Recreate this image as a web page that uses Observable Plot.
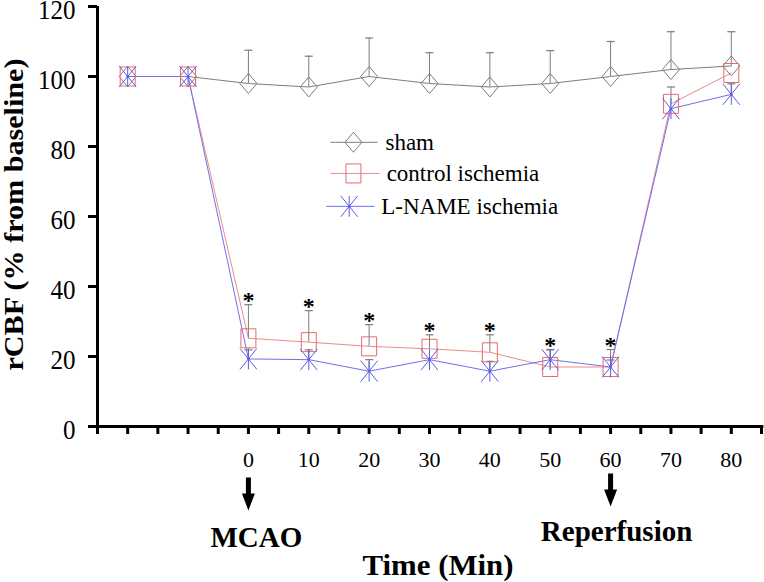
<!DOCTYPE html>
<html>
<head>
<meta charset="utf-8">
<script src="https://cdn.jsdelivr.net/npm/d3@7"></script>
<script src="https://cdn.jsdelivr.net/npm/@observablehq/plot@0.6"></script>
<style>
  html, body { margin: 0; padding: 0; background: #fff; }
  #chart { width: 764px; height: 582px; }
  #chart svg { display: block; }
</style>
</head>
<body>
<div id="chart"></div>
<script>
// ---- data ----
const times = [-20, -10, 0, 10, 20, 30, 40, 50, 60, 70, 80];
const shamMean     = [100, 100, 98, 97, 100, 98, 97, 98, 100, 102, 103];
const shamUpper    = [null, null, 107.5, 105.8, 111, 106.8, 106.8, 107.4, 110, 112.8, 112.8];
const controlMean  = [100, 100, 25.2, 24.1, 22.9, 22.2, 21.2, 17, 17, 92.2, 101];
const controlUpper = [null, null, 34.8, 33.1, 29.1, 26.2, 26.2, 22, 22, 97, null];
const lnameMean    = [100, 100, 19.3, 19.1, 15.8, 19.1, 15.8, 19.1, 17, 90.8, 94.9];
const lnameUpper   = [null, null, 21.9, 21.9, 19.1, null, 18.6, 21.9, 19, null, 97.9];
const starTimes = [0, 10, 20, 30, 40, 50, 60];
const seriesNames = ["sham", "control ischemia", "L-NAME ischemia"];
const xTickValues = [-25, -20, -15, -10, -5, 0, 5, 10, 15, 20, 25, 30, 35, 40, 45, 50, 55, 60, 65, 70, 75, 80, 85];
const xTickLabels = [0, 10, 20, 30, 40, 50, 60, 70, 80];
const yTickValues = [0, 20, 40, 60, 80, 100, 120];
const eventTimes = [0, 60];
const eventNames = ["MCAO", "Reperfusion"];
const yTitle = "rCBF (% from baseline)";
const xTitle = "Time (Min)";

// ---- build tables ----
const series = [
  {name: seriesNames[0], mean: shamMean, upper: shamUpper},
  {name: seriesNames[1], mean: controlMean, upper: controlUpper},
  {name: seriesNames[2], mean: lnameMean, upper: lnameUpper}
];
const rows = series.flatMap(s => times.map((t, i) => ({series: s.name, t, v: s.mean[i], up: s.upper[i]})));
const errRows = rows.filter(d => d.up != null);
const bySeries = name => rows.filter(d => d.series === name);
const starRows = starTimes.map(t => ({t, v: controlUpper[times.indexOf(t)]}));
const events = eventTimes.map((t, i) => ({t, name: eventNames[i]}));

// ---- styles / symbols ----
const FONT = "\"Liberation Serif\", serif";
const GRAY = "#7d7d7d", RED = "#e86a6a", REDLINE = "#f08a8a", BLUE = "#5c5ce8", BLUELINE = "#7070ee";
const rectSym = (w, h) => ({draw(c) { c.moveTo(-w/2, -h/2); c.lineTo(w/2, -h/2); c.lineTo(w/2, h/2); c.lineTo(-w/2, h/2); c.closePath(); }});
const diamondSym = (w, h) => ({draw(c) { c.moveTo(0, -h/2); c.lineTo(w/2, 0); c.lineTo(0, h/2); c.lineTo(-w/2, 0); c.closePath(); }});
const starSym = (w, h) => ({draw(c) { c.moveTo(0, -h/2); c.lineTo(0, h/2); c.moveTo(-w/2, -h/2); c.lineTo(w/2, h/2); c.moveTo(w/2, -h/2); c.lineTo(-w/2, h/2); }});
const capSym = (w) => ({draw(c) { c.moveTo(-w/2, 0); c.lineTo(w/2, 0); }});
const arrowSym = {draw(c) {
  c.moveTo(-2.5, -33); c.lineTo(2.5, -33); c.lineTo(2.5, -17); c.lineTo(6.5, -17);
  c.lineTo(0, 0); c.lineTo(-6.5, -17); c.lineTo(-2.5, -17); c.closePath();
}};

// legend layout (in data units of the chart)
const legendLayout = [
  {line: [13.6, 21.4], mark: 17.4, textX: 22.7, y: 81.2},
  {line: [13.6, 21.7], mark: 17.4, textX: 22.9, y: 72.3},
  {line: [12.9, 20.9], mark: 16.7, textX: 22.0, y: 62.9}
];
const legend = seriesNames.map((name, i) => ({name, ...legendLayout[i]}));
const colors = [GRAY, RED, BLUE];
const lineColors = [GRAY, REDLINE, BLUELINE];
const syms = [diamondSym(17, 20), rectSym(15, 19), starSym(17, 21)];

const chart = Plot.plot({
  width: 764,
  height: 582,
  marginLeft: 97,
  marginRight: 3,
  marginTop: 6,
  marginBottom: 156,
  style: {fontFamily: FONT, background: "#fff", color: "#000", overflow: "visible"},
  x: {domain: [-25, 85], axis: null},
  y: {domain: [0, 120], axis: null},
  marks: [
    Plot.line(bySeries(seriesNames[0]), {x: "t", y: "v", stroke: GRAY, strokeWidth: 1}),
    Plot.line(bySeries(seriesNames[1]), {x: "t", y: "v", stroke: REDLINE, strokeWidth: 1}),
    Plot.line(bySeries(seriesNames[2]), {x: "t", y: "v", stroke: BLUELINE, strokeWidth: 1}),
    Plot.ruleX(errRows, {x: "t", y1: "v", y2: "up", stroke: GRAY, strokeWidth: 1}),
    Plot.dot(errRows, {x: "t", y: "up", symbol: capSym(8), r: 4, stroke: GRAY, fill: "none", strokeWidth: 1.2}),
    Plot.dot(bySeries(seriesNames[0]), {x: "t", y: "v", symbol: syms[0], r: 5, stroke: GRAY, fill: "none", strokeWidth: 1}),
    Plot.dot(bySeries(seriesNames[1]), {x: "t", y: "v", symbol: syms[1], r: 5, stroke: RED, fill: "none", strokeWidth: 1}),
    Plot.dot(bySeries(seriesNames[2]), {x: "t", y: "v", symbol: syms[2], r: 5, stroke: BLUE, fill: "none", strokeWidth: 1}),
    Plot.dot(bySeries(seriesNames[2]), {x: "t", y: "v", r: 1.3, fill: BLUE, stroke: "none"}),
    Plot.text(starRows, {x: "t", y: "v", text: () => "*", dy: -4, fontSize: 24, fontWeight: "bold", fill: "#000", fontFamily: FONT}),
    Plot.link(legend, {x1: d => d.line[0], x2: d => d.line[1], y1: "y", y2: "y", stroke: (d, i) => lineColors[i], strokeWidth: 1}),
    ...legend.map((d, i) => Plot.dot([d], {x: "mark", y: "y", symbol: syms[i], r: 5, stroke: colors[i], fill: "none", strokeWidth: 1})),
    Plot.dot([legend[2]], {x: "mark", y: "y", r: 1.3, fill: BLUE, stroke: "none"}),
    Plot.text(legend, {x: "textX", y: "y", text: "name", textAnchor: "start", lineAnchor: "middle", fontSize: 23, fill: "#000", fontFamily: FONT}),
    Plot.ruleX([-25], {y1: 0, y2: 120, stroke: "#000", strokeWidth: 3}),
    Plot.ruleY([0], {x1: -25, x2: 85.4, stroke: "#000", strokeWidth: 3}),
    Plot.axisY(yTickValues, {anchor: "left", tickSize: 9, tickPadding: 13, strokeWidth: 3, fontSize: 25, label: null, fill: "#000", stroke: "#000", fontFamily: FONT}),
    Plot.axisX(xTickValues, {anchor: "bottom", tickSize: 8, strokeWidth: 3, text: null, label: null, stroke: "#000"}),
    Plot.axisX(xTickLabels, {anchor: "bottom", tickSize: 0, tickPadding: 25, fontSize: 22, label: null, fill: "#000", fontFamily: FONT}),
    Plot.dot(events.filter(d => d.name === eventNames[0]), {x: "t", frameAnchor: "bottom", dy: 84, symbol: arrowSym, r: 5, fill: "#000", stroke: "none"}),
    Plot.dot(events.filter(d => d.name === eventNames[1]), {x: "t", frameAnchor: "bottom", dy: 80, symbol: arrowSym, r: 5, fill: "#000", stroke: "none"}),
    Plot.text(events.filter(d => d.name === eventNames[0]), {x: "t", text: "name", frameAnchor: "bottom", lineAnchor: "middle", textAnchor: "middle", dx: 8, dy: 111, fontSize: 29, fontWeight: "bold", fill: "#000", fontFamily: FONT}),
    Plot.text(events.filter(d => d.name === eventNames[1]), {x: "t", text: "name", frameAnchor: "bottom", lineAnchor: "middle", textAnchor: "middle", dx: 6, dy: 105, fontSize: 29, fontWeight: "bold", fill: "#000", fontFamily: FONT}),
    Plot.text([xTitle], {text: d => d, frameAnchor: "bottom", lineAnchor: "middle", textAnchor: "middle", dx: 8.5, dy: 139, fontSize: 29, fontWeight: "bold", fill: "#000", fontFamily: FONT}),
    Plot.text([yTitle], {text: d => d, frameAnchor: "left", rotate: -90, lineAnchor: "middle", textAnchor: "middle", dx: -83, dy: -2, fontSize: 28, fontWeight: "bold", fill: "#000", fontFamily: FONT})
  ]
});

document.getElementById("chart").appendChild(chart);

// stretch titles to the measured lengths
chart.querySelectorAll("text").forEach(t => {
  if (t.textContent === yTitle) { t.setAttribute("textLength", 312); t.setAttribute("lengthAdjust", "spacingAndGlyphs"); }
  if (t.textContent === xTitle) { t.setAttribute("textLength", 151); t.setAttribute("lengthAdjust", "spacingAndGlyphs"); }
});
// y tick labels: slightly taller glyphs and a little lower, as in the reference
chart.querySelectorAll('[aria-label="y-axis tick label"] text').forEach(t => {
  const tr = t.getAttribute("transform") || "";
  t.setAttribute("transform", tr + " translate(0,4) scale(1,1.08)");
});
</script>
</body>
</html>
